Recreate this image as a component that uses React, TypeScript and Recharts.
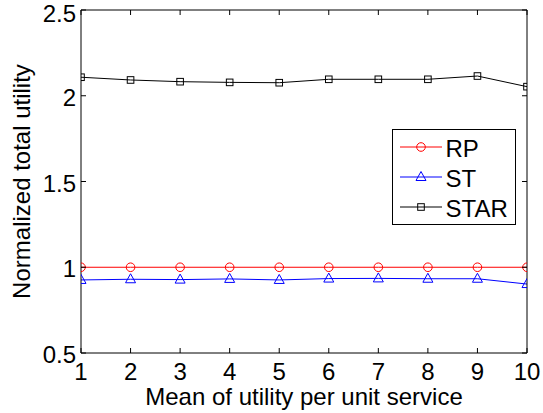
import React from 'react';
import { LineChart, Line, XAxis, YAxis, Legend, Label } from 'recharts';

const xValues = [1, 2, 3, 4, 5, 6, 7, 8, 9, 10];
const rpValues = [1, 1, 1, 1, 1, 1, 1, 1, 1, 1];
const stValues = [0.926, 0.93, 0.928, 0.932, 0.926, 0.934, 0.935, 0.933, 0.933, 0.902];
const starValues = [2.108, 2.092, 2.082, 2.078, 2.076, 2.096, 2.096, 2.096, 2.115, 2.053];
const xTicks = [1, 2, 3, 4, 5, 6, 7, 8, 9, 10];
const yTicks = [0.5, 1, 1.5, 2, 2.5];

const xTitle = 'Mean of utility per unit service';
const yTitle = 'Normalized total utility';

const FONT = '"Liberation Sans", Arial, Helvetica, sans-serif';
const FS = 24;
const TICK_LEN = 5;

const series = [
  { key: 'RP', color: '#ff0000', marker: 'circle' },
  { key: 'ST', color: '#0000ff', marker: 'triangle' },
  { key: 'STAR', color: '#000000', marker: 'square' },
];

const data = xValues.map((x, i) => ({
  x,
  RP: rpValues[i],
  ST: stValues[i],
  STAR: starValues[i],
}));

function Marker({ kind, cx, cy, color }: { kind: string; cx: number; cy: number; color: string }) {
  if (cx == null || cy == null || isNaN(cx) || isNaN(cy)) return null;
  if (kind === 'circle') {
    return <circle cx={cx} cy={cy} r={4.3} fill="none" stroke={color} strokeWidth={1} />;
  }
  if (kind === 'triangle') {
    const pts = `${cx},${cy - 5.5} ${cx - 5},${cy + 3.5} ${cx + 5},${cy + 3.5}`;
    return <polygon points={pts} fill="none" stroke={color} strokeWidth={1} />;
  }
  return <rect x={cx - 3.3} y={cy - 3.3} width={6.6} height={6.6} fill="none" stroke={color} strokeWidth={1} />;
}

const renderLegend = (props: any) => {
  const payload = props.payload || [];
  return (
    <div
      style={{
        width: 124,
        height: 96,
        boxSizing: 'border-box',
        border: '1px solid #000',
        background: '#fff',
      }}
    >
      <svg width={122} height={94} style={{ display: 'block' }}>
        {payload.map((entry: any, i: number) => {
          const s = series.find((q) => q.key === entry.dataKey) || series[i];
          const y = 17 + 30 * i;
          return (
            <g key={s.key}>
              <line x1={7} x2={49} y1={y} y2={y} stroke={s.color} strokeWidth={1} />
              <Marker kind={s.marker} cx={28} cy={y} color={s.color} />
              <text x={52.5} y={y + 10} fontFamily={FONT} fontSize={FS} fill="#000">
                {entry.value}
              </text>
            </g>
          );
        })}
      </svg>
    </div>
  );
};

// bottom axis: label anchor y = axisY - TICK_LEN + 15
const BottomTick = (p: any) => {
  const axisY = p.y - 15 + TICK_LEN;
  return (
    <g>
      <line x1={p.x} x2={p.x} y1={axisY} y2={axisY - TICK_LEN} stroke="#000" strokeWidth={1} />
      <text x={p.x} y={p.y + 17} textAnchor="middle" fontFamily={FONT} fontSize={FS} fill="#000">
        {p.payload.value}
      </text>
    </g>
  );
};

// left axis: label anchor x = axisX + TICK_LEN - 10
const LeftTick = (p: any) => {
  const axisX = p.x + 10 - TICK_LEN;
  return (
    <g>
      <line x1={axisX} x2={axisX + TICK_LEN} y1={p.y} y2={p.y} stroke="#000" strokeWidth={1} />
      <text
        x={p.x}
        y={Math.max(p.y + 10, 22)}
        textAnchor="end"
        fontFamily={FONT}
        fontSize={FS}
        fill="#000"
      >
        {p.payload.value}
      </text>
    </g>
  );
};

// top axis: anchor y = axisY + TICK_LEN (inner end)
const TopTick = (p: any) => (
  <line x1={p.x} x2={p.x} y1={p.y} y2={p.y - TICK_LEN} stroke="#000" strokeWidth={1} />
);

// right axis: anchor x = axisX - TICK_LEN (inner end)
const RightTick = (p: any) => (
  <line x1={p.x} x2={p.x + TICK_LEN} y1={p.y} y2={p.y} stroke="#000" strokeWidth={1} />
);

const axisLine = { stroke: '#000', strokeWidth: 1 };

export default function App() {
  return (
    <div style={{ position: 'absolute', left: 0, top: 0, background: '#fff' }}>
      <LineChart
        width={543}
        height={413}
        data={data}
        margin={{ top: 9, right: 15, bottom: 0, left: 0 }}
      >
        <XAxis
          xAxisId="b"
          dataKey="x"
          type="number"
          orientation="bottom"
          domain={[1, 10]}
          allowDataOverflow
          ticks={xTicks}
          interval={0}
          height={60}
          tickSize={-TICK_LEN}
          tickMargin={15}
          axisLine={axisLine}
          tickLine={false}
          tick={<BottomTick />}
        >
          <Label
            content={(p: any) => {
              const vb = p.viewBox || { x: 81, y: 353, width: 446, height: 60 };
              return (
                <text
                  x={vb.x + vb.width / 2}
                  y={vb.y + vb.height - 8}
                  textAnchor="middle"
                  fontFamily={FONT}
                  fontSize={FS}
                  fill="#000"
                >
                  {xTitle}
                </text>
              );
            }}
          />
        </XAxis>
        <XAxis
          xAxisId="t"
          dataKey="x"
          type="number"
          orientation="top"
          domain={[1, 10]}
          allowDataOverflow
          ticks={xTicks}
          interval={0}
          height={1}
          tickSize={-TICK_LEN}
          tickMargin={0}
          axisLine={axisLine}
          tickLine={false}
          tick={<TopTick />}
        />
        <YAxis
          yAxisId="l"
          type="number"
          orientation="left"
          domain={[0.5, 2.5]}
          allowDataOverflow
          ticks={yTicks}
          interval={0}
          width={81}
          tickSize={-TICK_LEN}
          tickMargin={10}
          axisLine={axisLine}
          tickLine={false}
          tick={<LeftTick />}
        >
          <Label
            content={(p: any) => {
              const vb = p.viewBox || { x: 0, y: 10, width: 81, height: 343 };
              const cy = vb.y + vb.height / 2;
              return (
                <text
                  x={0}
                  y={0}
                  transform={`translate(30, ${cy}) rotate(-90)`}
                  textAnchor="middle"
                  fontFamily={FONT}
                  fontSize={FS}
                  fill="#000"
                >
                  {yTitle}
                </text>
              );
            }}
          />
        </YAxis>
        <YAxis
          yAxisId="r"
          type="number"
          orientation="right"
          domain={[0.5, 2.5]}
          allowDataOverflow
          ticks={yTicks}
          interval={0}
          width={1}
          tickSize={-TICK_LEN}
          tickMargin={0}
          axisLine={axisLine}
          tickLine={false}
          tick={<RightTick />}
        />
        <Legend
          layout="horizontal"
          verticalAlign="middle"
          align="center"
          wrapperStyle={{ left: 392, top: 129, width: 124, height: 96 }}
          content={renderLegend}
        />
        {series.map((s) => (
          <Line
            key={s.key}
            xAxisId="b"
            yAxisId="l"
            type="linear"
            dataKey={s.key}
            name={s.key}
            stroke={s.color}
            strokeWidth={1}
            isAnimationActive={false}
            activeDot={false}
            dot={(p: any) => (
              <Marker key={`${s.key}-${p.index}`} kind={s.marker} cx={p.cx} cy={p.cy} color={s.color} />
            )}
          />
        ))}
      </LineChart>
    </div>
  );
}
